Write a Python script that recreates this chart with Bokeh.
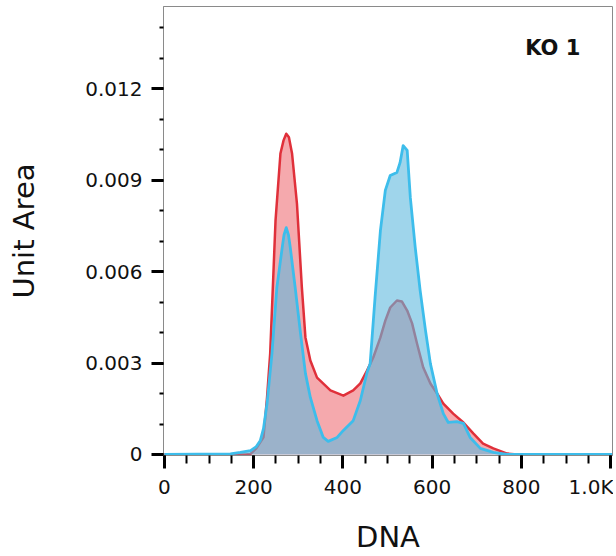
from bokeh.plotting import figure
from bokeh.models import FixedTicker, Label, Range1d
from bokeh.embed import file_html
from bokeh.resources import INLINE

# ---- data ----
red_x = [0, 181, 193, 206, 222, 230, 237, 249, 260, 267, 273, 279,
         286, 297, 308, 316, 327, 342, 372, 401, 423, 439,
         454, 468, 484, 495, 506, 521, 532, 544, 555, 566,
         580, 596, 611, 625, 647, 670, 692, 714, 737, 768,
         791, 1004]
red_y = [0, 0, 0.00002, 0.0002, 0.00056, 0.00187, 0.00331, 0.00767, 0.00987, 0.0103, 0.01052, 0.0104,
         0.00987, 0.00823, 0.00548, 0.00384, 0.00308, 0.00252, 0.0021, 0.00193, 0.0021, 0.00233,
         0.00275, 0.00318, 0.00384, 0.00439, 0.00482, 0.00505, 0.00502, 0.00472, 0.0043, 0.00364,
         0.00285, 0.00233, 0.002, 0.00167, 0.00134, 0.00105, 0.00069, 0.00036, 0.0002, 0.00003,
         0, 0]

blue_x = [0, 148, 170, 193, 206, 215, 222, 230, 241, 252,
          264, 268, 273, 278, 282, 293, 305, 316, 327, 342, 356, 367,
          387, 401, 423, 439, 454, 461, 472, 484, 495, 506,
          521, 528, 535, 544, 551, 562, 573, 585, 596, 611,
          625, 636, 655, 670, 685, 708, 737, 768, 808, 1004]
blue_y = [0, 0.00002, 0.00007, 0.00013, 0.00026, 0.00046, 0.00085, 0.00167, 0.00331, 0.00548,
          0.00679, 0.0072, 0.00744, 0.0072, 0.00679, 0.00548, 0.00397, 0.00266, 0.00187, 0.00111, 0.00056, 0.00043,
          0.00056, 0.00079, 0.00111, 0.00177, 0.00269, 0.00298, 0.00515, 0.00734, 0.00866, 0.00915,
          0.00925, 0.00957, 0.01013, 0.00997, 0.00843, 0.00679, 0.00538, 0.00407, 0.00298, 0.002,
          0.00134, 0.00105, 0.00108, 0.00102, 0.00056, 0.0002, 0.00007, 0, 0, 0]

x_ticks = [0, 200, 400, 600, 800, 1000]
x_tick_labels = ["0", "200", "400", "600", "800", "1.0K"]
x_minor_ticks = list(range(0, 1001, 50))
y_ticks = [0, 0.003, 0.006, 0.009, 0.012]
y_tick_labels = ["0", "0.003", "0.006", "0.009", "0.012"]
y_minor_ticks = [i / 1000 for i in range(0, 15)]

title_text = "KO 1"
x_title = "DNA"
y_title = "Unit Area"

FONT = "DejaVu Sans"

p = figure(width=613, height=556, output_backend="svg", toolbar_location=None,
           x_range=Range1d(-2, 1004), y_range=Range1d(-0.0000328, 0.01469),
           min_border_left=163, min_border_right=1, min_border_top=6, min_border_bottom=101)
p.grid.visible = False
p.outline_line_color = "#8a8a8a"
p.background_fill_color = "white"
p.border_fill_color = "white"

# red histogram (drawn first)
p.varea(x=red_x, y1=0, y2=red_y, fill_color="#E8414A", fill_alpha=0.45)
p.line(red_x, red_y, line_color="#E0303A", line_width=2.5, line_join="round")
# blue histogram on top
p.varea(x=blue_x, y1=0, y2=blue_y, fill_color="#5FB9DE", fill_alpha=0.6)
p.line(blue_x, blue_y, line_color="#3DBDEB", line_width=2.8, line_join="round")

# x axis
xa = p.xaxis[0]
xa.ticker = FixedTicker(ticks=x_ticks, minor_ticks=x_minor_ticks)
xa.major_label_overrides = dict(zip(x_ticks, x_tick_labels))
xa.major_tick_in = 0
xa.major_tick_out = 13
xa.major_tick_line_width = 3
xa.major_tick_line_color = "black"
xa.minor_tick_in = 0
xa.minor_tick_out = 8
xa.minor_tick_line_width = 2
xa.minor_tick_line_color = "black"
xa.axis_line_color = "#8a8a8a"
xa.major_label_text_font = FONT
xa.major_label_text_font_size = "20px"
xa.major_label_text_color = "#111111"
xa.major_label_standoff = 6
xa.axis_label = x_title
xa.axis_label_text_font = FONT
xa.axis_label_text_font_style = "normal"
xa.axis_label_text_font_size = "29px"
xa.axis_label_text_color = "#111111"
xa.axis_label_standoff = 18

# y axis
ya = p.yaxis[0]
ya.ticker = FixedTicker(ticks=y_ticks, minor_ticks=y_minor_ticks)
ya.major_label_overrides = dict(zip(y_ticks, y_tick_labels))
ya.major_tick_in = 0
ya.major_tick_out = 12
ya.major_tick_line_width = 3
ya.major_tick_line_color = "black"
ya.minor_tick_in = 0
ya.minor_tick_out = 4
ya.minor_tick_line_width = 2
ya.minor_tick_line_color = "black"
ya.axis_line_color = "#8a8a8a"
ya.major_label_text_font = FONT
ya.major_label_text_font_size = "20px"
ya.major_label_text_color = "#111111"
ya.major_label_standoff = 9
ya.axis_label = y_title
ya.axis_label_text_font = FONT
ya.axis_label_text_font_style = "normal"
ya.axis_label_text_font_size = "29px"
ya.axis_label_text_color = "#111111"
ya.axis_label_standoff = 41

p.add_layout(Label(x=932, y=0.01334, text=title_text, text_align="right",
                   text_baseline="middle", text_font=FONT, text_font_style="bold",
                   text_font_size="21px", text_color="#111111"))

open("out.html", "w").write(file_html(p, INLINE))
